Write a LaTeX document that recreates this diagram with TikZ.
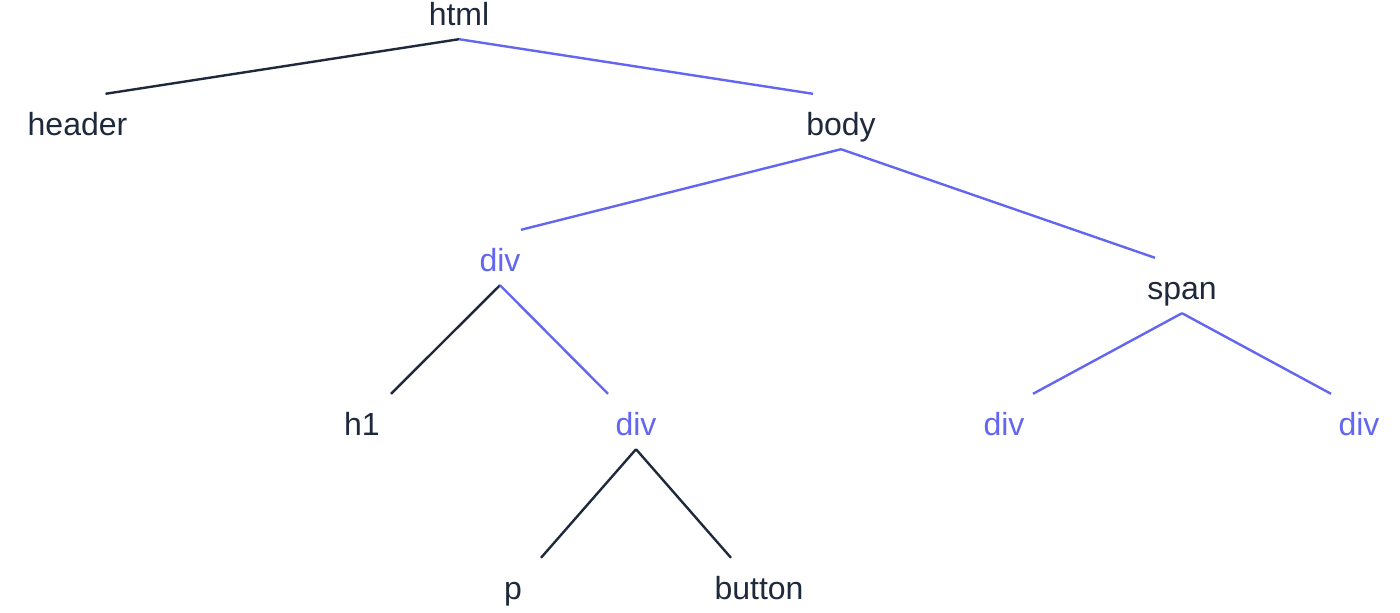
\documentclass[tikz,border=0pt]{standalone}
\usepackage{fontspec}
\setmainfont{Liberation Sans}
\definecolor{ink}{HTML}{1E293B}
\definecolor{hl}{HTML}{6366F1}
\begin{document}
\begin{tikzpicture}[x=1pt,y=-1pt,
  tn/.style={anchor=base,inner sep=0pt,text height=41pt,text depth=14pt,font=\fontsize{32}{38}\selectfont,text=ink},
  hn/.style={tn,text=hl},
  darkedge/.style={draw=ink,line width=2.4pt},
  hledge/.style={draw=hl,line width=2.4pt}]
\useasboundingbox (0,0) rectangle (1400,613);
\node[tn] (html) at (459,25) {html};
\node[tn] (header) at (77.5,135) {header};
\node[tn] (body) at (841,135) {body};
\node[hn] (div1) at (500,271) {div};
\node[tn] (span) at (1182,299) {span};
\node[tn] (h1) at (362,435) {h1};
\node[hn] (div2) at (636,435) {div};
\node[hn] (div3) at (1004,435) {div};
\node[hn] (div4) at (1359,435) {div};
\node[tn] (p) at (513,599) {p};
\node[tn] (button) at (759,599) {button};
\draw[darkedge] (html.south) -- ([xshift=28pt]header.north);
\draw[hledge] (html.south) -- ([xshift=-28pt]body.north);
\draw[hledge] (body.south) -- ([xshift=21pt]div1.north);
\draw[hledge] (body.south) -- ([xshift=-27pt]span.north);
\draw[darkedge] (div1.south) -- ([xshift=29pt]h1.north);
\draw[hledge] (div1.south) -- ([xshift=-28pt]div2.north);
\draw[hledge] (span.south) -- ([xshift=29pt]div3.north);
\draw[hledge] (span.south) -- ([xshift=-28pt]div4.north);
\draw[darkedge] (div2.south) -- ([xshift=28pt]p.north);
\draw[darkedge] (div2.south) -- ([xshift=-28pt]button.north);
\end{tikzpicture}
\end{document}
